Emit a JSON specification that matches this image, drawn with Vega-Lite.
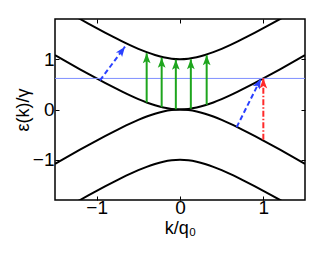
{
  "$schema": "https://vega.github.io/schema/vega-lite/v6.json",
  "width": 250,
  "height": 181,
  "autosize": {"type": "none"},
  "padding": {"left": 55, "top": 19, "right": 31, "bottom": 53},
  "background": "white",
  "config": {
    "font": "Liberation Sans",
    "view": {"stroke": "black", "strokeWidth": 1.5},
    "axis": {
      "domain": false,
      "grid": false,
      "tickColor": "black",
      "tickSize": -4,
      "tickWidth": 1,
      "labelColor": "black",
      "labelFontSize": 19,
      "titleColor": "black",
      "titleFontSize": 18,
      "titleFontWeight": "normal",
      "format": "d"
    }
  },
  "datasets": {
    "bands": [
      {"k": -1.5, "up": 2.0811, "mid": 1.0811, "mlo": -1.0811, "lo": -2.0811},
      {"k": -1.4, "up": 1.9866, "mid": 0.9866, "mlo": -0.9866, "lo": -1.9866},
      {"k": -1.3, "up": 1.8929, "mid": 0.8929, "mlo": -0.8929, "lo": -1.8929},
      {"k": -1.2, "up": 1.8, "mid": 0.8, "mlo": -0.8, "lo": -1.8},
      {"k": -1.1, "up": 1.7083, "mid": 0.7083, "mlo": -0.7083, "lo": -1.7083},
      {"k": -1.0, "up": 1.618, "mid": 0.618, "mlo": -0.618, "lo": -1.618},
      {"k": -0.9, "up": 1.5296, "mid": 0.5296, "mlo": -0.5296, "lo": -1.5296},
      {"k": -0.8, "up": 1.4434, "mid": 0.4434, "mlo": -0.4434, "lo": -1.4434},
      {"k": -0.7, "up": 1.3602, "mid": 0.3602, "mlo": -0.3602, "lo": -1.3602},
      {"k": -0.6, "up": 1.281, "mid": 0.281, "mlo": -0.281, "lo": -1.281},
      {"k": -0.5, "up": 1.2071, "mid": 0.2071, "mlo": -0.2071, "lo": -1.2071},
      {"k": -0.4, "up": 1.1403, "mid": 0.1403, "mlo": -0.1403, "lo": -1.1403},
      {"k": -0.3, "up": 1.0831, "mid": 0.0831, "mlo": -0.0831, "lo": -1.0831},
      {"k": -0.2, "up": 1.0385, "mid": 0.0385, "mlo": -0.0385, "lo": -1.0385},
      {"k": -0.1, "up": 1.0099, "mid": 0.0099, "mlo": -0.0099, "lo": -1.0099},
      {"k": 0.0, "up": 1.0, "mid": 0.0, "mlo": 0.0, "lo": -1.0},
      {"k": 0.1, "up": 1.0099, "mid": 0.0099, "mlo": -0.0099, "lo": -1.0099},
      {"k": 0.2, "up": 1.0385, "mid": 0.0385, "mlo": -0.0385, "lo": -1.0385},
      {"k": 0.3, "up": 1.0831, "mid": 0.0831, "mlo": -0.0831, "lo": -1.0831},
      {"k": 0.4, "up": 1.1403, "mid": 0.1403, "mlo": -0.1403, "lo": -1.1403},
      {"k": 0.5, "up": 1.2071, "mid": 0.2071, "mlo": -0.2071, "lo": -1.2071},
      {"k": 0.6, "up": 1.281, "mid": 0.281, "mlo": -0.281, "lo": -1.281},
      {"k": 0.7, "up": 1.3602, "mid": 0.3602, "mlo": -0.3602, "lo": -1.3602},
      {"k": 0.8, "up": 1.4434, "mid": 0.4434, "mlo": -0.4434, "lo": -1.4434},
      {"k": 0.9, "up": 1.5296, "mid": 0.5296, "mlo": -0.5296, "lo": -1.5296},
      {"k": 1.0, "up": 1.618, "mid": 0.618, "mlo": -0.618, "lo": -1.618},
      {"k": 1.1, "up": 1.7083, "mid": 0.7083, "mlo": -0.7083, "lo": -1.7083},
      {"k": 1.2, "up": 1.8, "mid": 0.8, "mlo": -0.8, "lo": -1.8},
      {"k": 1.3, "up": 1.8929, "mid": 0.8929, "mlo": -0.8929, "lo": -1.8929},
      {"k": 1.4, "up": 1.9866, "mid": 0.9866, "mlo": -0.9866, "lo": -1.9866},
      {"k": 1.5, "up": 2.0811, "mid": 1.0811, "mlo": -1.0811, "lo": -2.0811}
    ],
    "arrows": [
      {"kind": "green", "k1": -0.4, "e1": 0.1403, "k2": -0.4, "e2": 1.12},
      {"kind": "green", "k1": -0.22, "e1": 0.0463, "k2": -0.22, "e2": 1.03},
      {"kind": "green", "k1": -0.05, "e1": 0.0025, "k2": -0.05, "e2": 0.99},
      {"kind": "green", "k1": 0.13, "e1": 0.0166, "k2": 0.13, "e2": 1.0},
      {"kind": "green", "k1": 0.32, "e1": 0.0936, "k2": 0.32, "e2": 1.08},
      {"kind": "blue", "k1": -0.96, "e1": 0.58, "k2": -0.66, "e2": 1.25},
      {"kind": "blue", "k1": 0.68, "e1": -0.35, "k2": 0.97, "e2": 0.61},
      {"kind": "red", "k1": 1.0, "e1": -0.6, "k2": 1.0, "e2": 0.62}
    ]
  },
  "layer": [
    {
      "layer": [
        {
          "data": {"name": "bands"},
          "transform": [{"fold": ["up", "mid", "mlo", "lo"], "as": ["band", "e"]}],
          "mark": {"type": "line", "color": "black", "strokeWidth": 2, "clip": true, "interpolate": "monotone"},
          "encoding": {
            "x": {"field": "k", "type": "quantitative", "scale": {"domain": [-1.5, 1.5], "nice": false, "zero": false},
                  "axis": {"values": [-1, 0, 1], "title": "k/q₀", "labelPadding": 2, "titlePadding": 2}},
            "y": {"field": "e", "type": "quantitative", "scale": {"domain": [-1.8, 1.8], "nice": false, "zero": false},
                  "axis": {"values": [-1, 0, 1], "title": "ε(k)/γ", "labelPadding": 5, "titlePadding": 0}},
            "detail": {"field": "band"}
          }
        },
        {
          "data": {"values": [{"e": 0.618}]},
          "mark": {"type": "rule", "color": "#7f8fff", "strokeWidth": 1},
          "encoding": {
            "y": {"field": "e", "type": "quantitative"}
          }
        },
        {
          "data": {"name": "arrows"},
          "mark": {"type": "rule", "strokeWidth": 2},
          "encoding": {
            "x": {"field": "k1", "type": "quantitative"},
            "y": {"field": "e1", "type": "quantitative"},
            "x2": {"field": "k2"},
            "y2": {"field": "e2"},
            "color": {"field": "kind", "type": "nominal", "legend": null,
                      "scale": {"domain": ["green", "blue", "red"], "range": ["#1ea51e", "#2a40ff", "#ff2a2a"]}},
            "strokeDash": {"field": "kind", "type": "nominal", "legend": null,
                      "scale": {"domain": ["green", "blue", "red"], "range": [[1, 0], [5, 3], [6, 2, 1.5, 2]]}}
          }
        },
        {
          "data": {"name": "arrows"},
          "transform": [{"calculate": "atan2((datum.k2 - datum.k1) * 250 / 3, (datum.e2 - datum.e1) * 181 / 3.6) * 180 / PI", "as": "ang"}],
          "mark": {"type": "point", "filled": true, "opacity": 1, "size": 240, "shape": "M0,0L0.5,1.3L0,1L-0.5,1.3Z"},
          "encoding": {
            "x": {"field": "k2", "type": "quantitative"},
            "y": {"field": "e2", "type": "quantitative"},
            "angle": {"field": "ang", "type": "quantitative", "scale": null},
            "color": {"field": "kind", "type": "nominal", "legend": null,
                      "scale": {"domain": ["green", "blue", "red"], "range": ["#1ea51e", "#2a40ff", "#ff2a2a"]}}
          }
        }
      ]
    },
    {
      "data": {"values": [{"k": 0, "e": 0}]},
      "mark": {"type": "point", "opacity": 0},
      "encoding": {
        "x": {"field": "k", "type": "quantitative", "scale": {"domain": [-1.5, 1.5], "nice": false, "zero": false},
              "axis": {"orient": "top", "values": [-1, 0, 1], "labels": false, "title": null}},
        "y": {"field": "e", "type": "quantitative", "scale": {"domain": [-1.8, 1.8], "nice": false, "zero": false},
              "axis": {"orient": "right", "values": [-1, 0, 1], "labels": false, "title": null}}
      }
    }
  ],
  "resolve": {"axis": {"x": "independent", "y": "independent"}}
}
